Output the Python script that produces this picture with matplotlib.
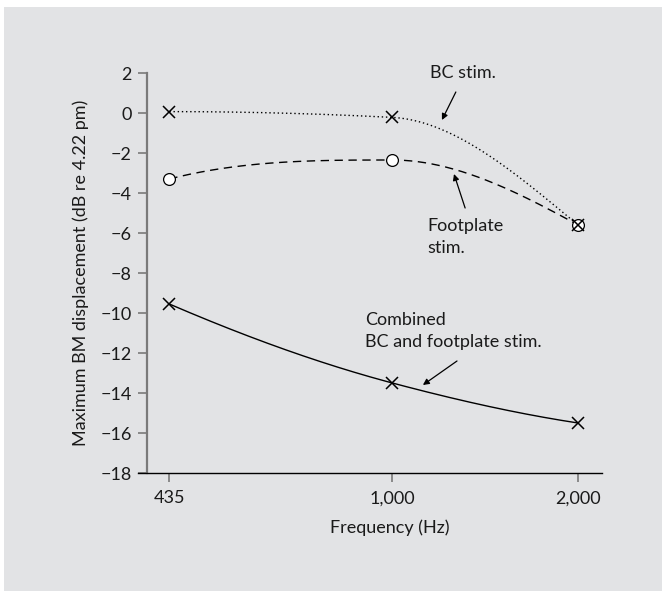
import numpy as np
import matplotlib.pyplot as plt
from matplotlib.patches import Rectangle
from matplotlib.ticker import NullLocator

plt.rcParams['font.family'] = ['Lato', 'DejaVu Sans']

# data
freq = [435, 1000, 2000]
bc_stim = [0.07, -0.22, -5.6]
footplate_stim = [-3.3, -2.35, -5.6]
combined_stim = [-9.55, -13.5, -15.5]

xtick_labels = ['435', '1,000', '2,000']
yticks = [2, 0, -2, -4, -6, -8, -10, -12, -14, -16, -18]
ytick_labels = ['2', '0', '\u22122', '\u22124', '\u22126', '\u22128', '\u221210',
                '\u221212', '\u221214', '\u221216', '\u221218']


def pchip(x, y, xs):
    # shape preserving cubic through the points (like a hand drawn smooth curve)
    x = np.asarray(x, float)
    y = np.asarray(y, float)
    h = np.diff(x)
    d = np.diff(y) / h
    n = len(x)
    m = np.zeros(n)
    for k in range(1, n - 1):
        if d[k - 1] * d[k] > 0:
            w1 = 2 * h[k] + h[k - 1]
            w2 = h[k] + 2 * h[k - 1]
            m[k] = (w1 + w2) / (w1 / d[k - 1] + w2 / d[k])

    def end(h0, h1, d0, d1):
        s = ((2 * h0 + h1) * d0 - h0 * d1) / (h0 + h1)
        if np.sign(s) != np.sign(d0):
            return 0.0
        if np.sign(d0) != np.sign(d1) and abs(s) > abs(3 * d0):
            return 3 * d0
        return s

    m[0] = end(h[0], h[1], d[0], d[1])
    m[-1] = end(h[-1], h[-2], d[-1], d[-2])
    idx = np.clip(np.searchsorted(x, xs) - 1, 0, n - 2)
    t = (xs - x[idx]) / h[idx]
    h00 = 2 * t**3 - 3 * t**2 + 1
    h10 = t**3 - 2 * t**2 + t
    h01 = -2 * t**3 + 3 * t**2
    h11 = t**3 - t**2
    return (h00 * y[idx] + h10 * h[idx] * m[idx]
            + h01 * y[idx + 1] + h11 * h[idx] * m[idx + 1])


fig = plt.figure(figsize=(6.62, 5.92), dpi=100)
fig.patch.set_facecolor('white')
fig.add_artist(Rectangle((4 / 662, 1 / 592), 658 / 662, 584 / 592,
                         transform=fig.transFigure, facecolor='#e2e3e5',
                         edgecolor='none', zorder=-10))

ax = fig.add_axes([138 / 662, 1 - 473 / 592, 464 / 662, 400 / 592])
ax.set_facecolor('none')

lx = np.log10(freq)
xs = np.linspace(lx[0], lx[-1], 300)
fs = 10 ** xs

ax.plot(fs, pchip(lx, bc_stim, xs), color='black', lw=1.0, linestyle=(0, (1, 2)))
ax.plot(fs, pchip(lx, footplate_stim, xs), color='black', lw=1.0, linestyle=(0, (6, 4)))
ax.plot(fs, pchip(lx, combined_stim, xs), color='black', lw=1.0)

ax.plot(freq, footplate_stim, linestyle='none', marker='o', ms=8.5,
        mfc='white', mec='black', mew=0.9, zorder=3)
ax.plot(freq, bc_stim, linestyle='none', marker='x', ms=8, mec='black', mew=1.1, zorder=4)
ax.plot(freq, combined_stim, linestyle='none', marker='x', ms=8, mec='black', mew=1.1, zorder=4)

ax.set_xscale('log')
ax.set_xlim(387, 2187)
ax.set_ylim(-18, 2)
ax.set_xticks(freq)
ax.set_xticklabels(xtick_labels)
ax.xaxis.set_minor_locator(NullLocator())
ax.set_yticks(yticks)
ax.set_yticklabels(ytick_labels)

for s in ['top', 'right']:
    ax.spines[s].set_visible(False)
ax.spines['left'].set_position(('axes', 8.5 / 464))
ax.spines['left'].set_color('#7a7a7a')
ax.spines['left'].set_linewidth(1.6)
ax.spines['bottom'].set_color('black')
ax.spines['bottom'].set_linewidth(1.0)
ax.tick_params(axis='both', direction='out', length=6.5, width=1.2,
               color='#7a7a7a', labelsize=13, labelcolor='#1a1a1a')
ax.tick_params(axis='y', pad=4)
ax.tick_params(axis='x', pad=6)

ax.set_xlabel('Frequency (Hz)', fontsize=13, color='#1a1a1a', labelpad=4)
ax.xaxis.set_label_coords((390 - 138) / 464, -0.115)
ax.set_ylabel('Maximum BM displacement (dB re 4.22 pm)', fontsize=13,
              color='#1a1a1a', labelpad=8)

arrow = dict(arrowstyle='-|>', color='black', lw=0.9, mutation_scale=9,
             shrinkA=0, shrinkB=0)
ax.text(0.629, 1.0, 'BC stim.', transform=ax.transAxes, fontsize=13,
        ha='left', va='center', color='#1a1a1a')
ax.annotate('', xy=(0.655, 0.8825), xytext=(0.685, 0.9525),
            xycoords='axes fraction', arrowprops=arrow)
ax.text(0.623, 0.59, 'Footplate\nstim.', transform=ax.transAxes, fontsize=13,
        ha='left', va='center', linespacing=1.45, color='#1a1a1a')
ax.annotate('', xy=(0.681, 0.7475), xytext=(0.705, 0.6625),
            xycoords='axes fraction', arrowprops=arrow)
ax.text(0.489, 0.355, 'Combined\nBC and footplate stim.', transform=ax.transAxes,
        fontsize=13, ha='left', va='center', linespacing=1.4, color='#1a1a1a')
ax.annotate('', xy=(0.614, 0.22), xytext=(0.6875, 0.28),
            xycoords='axes fraction', arrowprops=arrow)

fig.savefig('out.png', dpi=100)
